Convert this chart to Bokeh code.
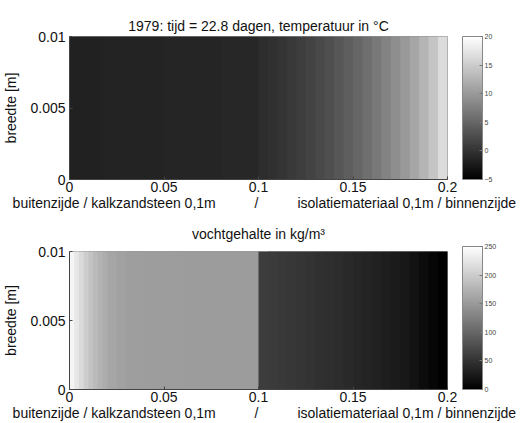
from bokeh.plotting import figure
from bokeh.models import (LinearColorMapper, ColorBar, FixedTicker, Range1d, ColumnDataSource)
from bokeh.layouts import column
from bokeh.palettes import gray
from bokeh.embed import file_html
from bokeh.resources import INLINE

# ---- data ----
x_edges = [0, 0.0025, 0.005, 0.0075, 0.01, 0.0125, 0.015, 0.0175, 0.02, 0.025, 0.03,
           0.04, 0.05, 0.06, 0.07, 0.08, 0.09, 0.1,
           0.105, 0.11, 0.115, 0.12, 0.125, 0.13, 0.135, 0.14, 0.145, 0.15,
           0.155, 0.16, 0.165, 0.17, 0.175, 0.18, 0.185, 0.19, 0.195, 0.2]
temperature = [-1.75, -1.75, -1.75, -1.75, -1.75, -1.75, -1.75,
               -1.5, -1.5, -1.5, -1.5, -1.5,
               -1.3, -1.3, -1.3, -1.1, -1.1,
               -0.6, -0.3, 0.1, 0.6, 1.1, 1.6, 2.2, 2.8, 3.5, 4.2,
               5.0, 5.9, 6.8, 7.8, 8.9, 10.0, 11.3, 12.7, 14.3, 16.5]
moisture = [240, 226, 213, 201, 191, 182, 175, 169, 163, 158, 155,
            154, 154, 153, 153, 153, 153,
            60, 58, 56, 54, 52, 50, 47, 45, 43, 41,
            38, 36, 33, 30, 27, 24, 18, 12, 6, 1]
x_ticks = [0, 0.05, 0.1, 0.15, 0.2]
x_tick_labels = ["0", "0.05", "0.1", "0.15", "0.2"]
y_ticks = [0, 0.005, 0.01]
y_tick_labels = ["0", "0.005", "0.01"]
temp_ticks = [-5, 0, 5, 10, 15, 20]
moist_ticks = [0, 50, 100, 150, 200, 250]
width_m = 0.01

title1 = "1979: tijd = 22.8 dagen, temperatuur in °C"
title2 = "vochtgehalte in kg/m³"
ylabel = "breedte [m]"
NB = "\u00a0"
xlabel = (NB * 3 + "buitenzijde / kalkzandsteen 0,1m" + NB * 10 + "/" + NB * 10 +
          "isolatiemateriaal 0,1m / binnenzijde")

FONT = "Liberation Sans"


def make(title, values, low, high, cticks, h, top_border, bottom_border, title_standoff):
    n = len(values)
    # each strip reaches to the next strip's far edge; the next strip paints over it (no seams)
    rights = [x_edges[min(i + 2, n)] for i in range(n)]
    src = ColumnDataSource(dict(left=x_edges[:-1], right=rights,
                                bottom=[0] * n, top=[width_m] * n, v=values))
    p = figure(width=518, height=h, output_backend="svg", toolbar_location=None,
               x_range=Range1d(0, 0.2), y_range=Range1d(0, width_m),
               min_border_left=65, min_border_right=518 - 65 - 382, min_border_top=top_border,
               min_border_bottom=bottom_border)
    mapper = LinearColorMapper(palette=gray(256), low=low, high=high)
    p.quad(left="left", right="right", bottom="bottom", top="top", source=src,
           fill_color={"field": "v", "transform": mapper}, line_color=None)
    p.title.text = title
    p.title.align = "center"
    p.title.text_font = FONT
    p.title.text_font_size = "14px"
    p.title.text_font_style = "normal"
    p.title.text_color = "#111111"
    p.title.standoff = title_standoff
    p.grid.visible = False
    p.outline_line_color = "#999999"
    p.background_fill_color = "white"
    for ax in (p.xaxis[0], p.yaxis[0]):
        ax.major_label_text_font = FONT
        ax.major_label_text_font_size = "14px"
        ax.major_label_text_color = "#111111"
        ax.axis_label_text_font = FONT
        ax.axis_label_text_font_size = "14px"
        ax.axis_label_text_font_style = "normal"
        ax.axis_label_text_color = "#111111"
        ax.major_tick_in = 3
        ax.major_tick_out = 0
        ax.minor_tick_line_color = None
        ax.axis_line_color = "#444444"
        ax.major_tick_line_color = "#444444"
    p.xaxis.ticker = FixedTicker(ticks=x_ticks)
    p.xaxis.major_label_overrides = dict(zip(x_ticks, x_tick_labels))
    p.xaxis.major_label_standoff = 2
    p.yaxis.ticker = FixedTicker(ticks=y_ticks)
    p.yaxis.major_label_overrides = dict(zip(y_ticks, y_tick_labels))
    p.yaxis.major_label_standoff = 4
    p.xaxis.axis_label = xlabel
    p.xaxis.axis_label_standoff = 0
    p.yaxis.axis_label = ylabel
    p.yaxis.axis_label_standoff = 8
    cb = ColorBar(color_mapper=mapper, width=20, height=143, location=(15, 0),
                  padding=0, margin=0, ticker=FixedTicker(ticks=cticks),
                  major_label_text_font=FONT, major_label_text_font_size="7px",
                  major_label_text_color="#444444", label_standoff=2,
                  major_tick_in=3, major_tick_out=0, major_tick_line_color="#777777",
                  bar_line_color="#888888", minor_tick_line_color=None,
                  background_fill_color=None, border_line_color=None)
    p.add_layout(cb, "right")
    return p


p1 = make(title1, temperature, -5, 20, temp_ticks, 213, 36, 34, 6)
p2 = make(title2, moisture, 0, 250, moist_ticks, 210, 37, 31, 20)
layout = column(p1, p2, spacing=0)

open("out.html", "w").write(file_html(layout, INLINE))
